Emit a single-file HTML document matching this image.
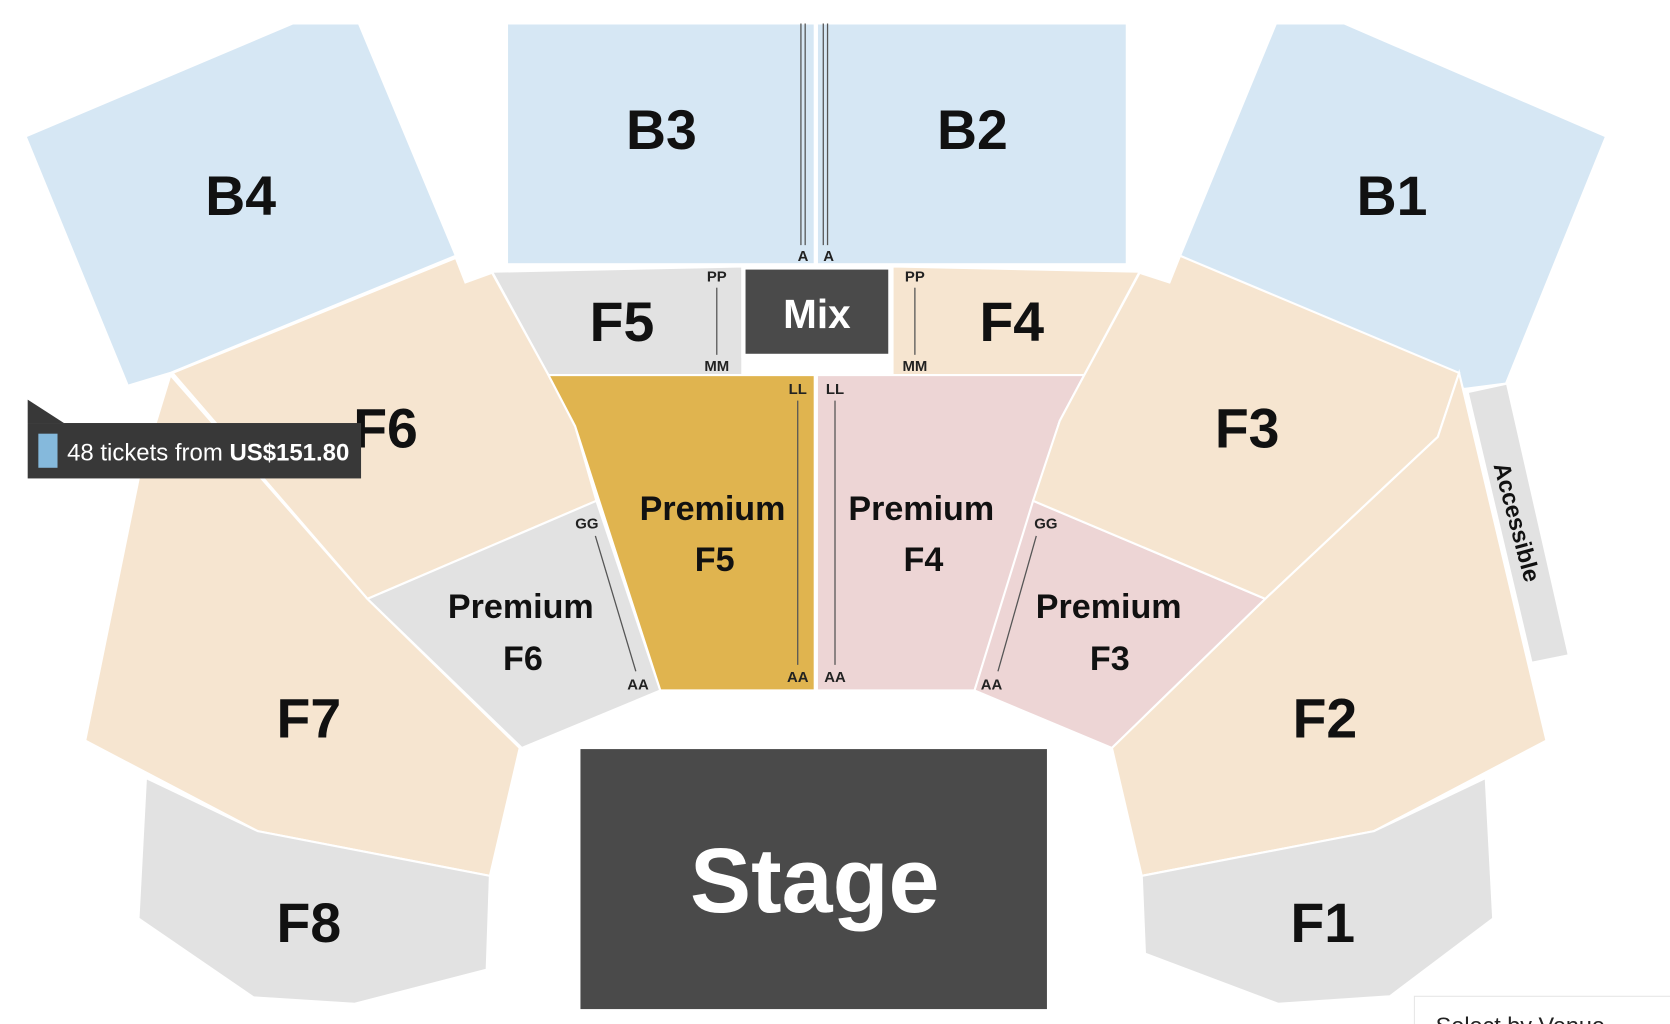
<!DOCTYPE html>
<html><head><meta charset="utf-8"><style>
html,body{margin:0;padding:0;background:#fff;overflow:hidden}
svg{display:block}
text{font-family:"Liberation Sans",Arial,sans-serif;font-weight:bold;fill:#111}
.s{font-size:14px;fill:#222}
</style></head><body>
<svg width="1670" height="1024" viewBox="0 0 1568 961" preserveAspectRatio="none" xmlns="http://www.w3.org/2000/svg">
<g stroke="#fff" stroke-width="2">
<polygon points="24,128 275,22 337,22 428,240 160,350 120,362" fill="#d6e7f4"/>
<rect x="476" y="22" width="289" height="226" fill="#d6e7f4"/>
<rect x="767" y="22" width="291" height="226" fill="#d6e7f4"/>
<polygon points="1108,240 1198,22 1262,22 1508,128 1414,360 1375,365" fill="#d6e7f4"/>
<polygon points="462,255 697,250 697,352 515,352" fill="#e2e2e2"/>
<polygon points="838,250 1070,255 1018,352 838,352" fill="#f6e5d0"/>
<polygon points="162,350 428,242 437,265 462,256 515,352 540,400 560,470 345,562" fill="#f6e5d0"/>
<polygon points="160,352 345,562 488,702 460,822 242,780 80,695 130,450" fill="#f6e5d0"/>
<polygon points="345,562 560,470 620,648 490,702" fill="#e2e2e2"/>
<polygon points="515,352 765,352 765,648 620,648 540,400" fill="#e0b44f"/>
<polygon points="767,352 1018,352 995,395 915,648 767,648" fill="#edd5d5"/>
<polygon points="970,470 1188,562 1044,702 915,648" fill="#edd5d5"/>
<polygon points="1018,352 1070,256 1098,265 1108,240 1370,350 1350,410 1188,562 970,470 995,395" fill="#f6e5d0"/>
<polygon points="1370,350 1452,695 1290,780 1072,822 1044,702 1188,562 1350,410" fill="#f6e5d0"/>
<polygon points="1378,368 1415,360 1473,615 1438,622" fill="#e2e2e2"/>
<polygon points="137,730 242,780 460,822 457,910 333,942 238,936 130,862" fill="#e2e2e2"/>
<polygon points="1072,822 1290,780 1395,730 1402,862 1305,935 1200,942 1075,895" fill="#e2e2e2"/>
</g>
<rect x="698" y="251" width="138" height="83" fill="#4a4a4a" stroke="#fff" stroke-width="4"/>
<rect x="545" y="703" width="438" height="244" fill="#4a4a4a"/>
<g stroke="#555" stroke-width="1.2">
<line x1="752" y1="22" x2="752" y2="230"/><line x1="756" y1="22" x2="756" y2="230"/>
<line x1="773" y1="22" x2="773" y2="230"/><line x1="777" y1="22" x2="777" y2="230"/>
<line x1="673" y1="270" x2="673" y2="333"/><line x1="859" y1="270" x2="859" y2="333"/>
<line x1="749" y1="376" x2="749" y2="624"/><line x1="784" y1="376" x2="784" y2="624"/>
<line x1="559" y1="503" x2="597" y2="630"/><line x1="973" y1="503" x2="937" y2="630"/>
</g>
<g text-anchor="middle">
<text x="226" y="202" font-size="52">B4</text>
<text x="621" y="140" font-size="52">B3</text>
<text x="913" y="140" font-size="52">B2</text>
<text x="1307" y="202" font-size="52">B1</text>
<text x="584" y="320" font-size="52">F5</text>
<text x="950" y="320" font-size="52">F4</text>
<text x="767" y="308" font-size="38" style="fill:#fff">Mix</text>
<text x="362" y="420" font-size="52">F6</text>
<text x="1171" y="420" font-size="52">F3</text>
<text x="290" y="692" font-size="52">F7</text>
<text x="1244" y="692" font-size="52">F2</text>
<text x="290" y="884" font-size="52">F8</text>
<text x="1242" y="884" font-size="52">F1</text>
<text x="765" y="856" font-size="86" style="fill:#fff">Stage</text>
<text x="669" y="488" font-size="32">Premium</text><text x="671" y="536" font-size="32">F5</text>
<text x="865" y="488" font-size="32">Premium</text><text x="867" y="536" font-size="32">F4</text>
<text x="489" y="580" font-size="32">Premium</text><text x="491" y="629" font-size="32">F6</text>
<text x="1041" y="580" font-size="32">Premium</text><text x="1042" y="629" font-size="32">F3</text>
<text class="s" x="754" y="245">A</text><text class="s" x="778" y="245">A</text>
<text class="s" x="673" y="264">PP</text><text class="s" x="859" y="264">PP</text>
<text class="s" x="673" y="348">MM</text><text class="s" x="859" y="348">MM</text>
<text class="s" x="749" y="370">LL</text><text class="s" x="784" y="370">LL</text>
<text class="s" x="551" y="496">GG</text><text class="s" x="982" y="496">GG</text>
<text class="s" x="599" y="647">AA</text><text class="s" x="749" y="640">AA</text>
<text class="s" x="784" y="640">AA</text><text class="s" x="931" y="647">AA</text>
<text transform="translate(1417,492) rotate(75)" font-size="22">Accessible</text>
</g>
<polygon points="26,375 26,397 60,397" fill="#383838"/>
<rect x="26" y="397" width="313" height="52" fill="#383838"/>
<rect x="36" y="407" width="18" height="32" fill="#85b9dc"/>
<text x="63" y="432" font-size="22.5" style="fill:#fff;font-weight:normal">48 tickets from <tspan style="font-weight:bold">US$151.80</tspan></text>
<rect x="1328" y="935" width="260" height="40" fill="#fff" stroke="#e6e6e6"/>
<text x="1348" y="970" font-size="22" style="fill:#222;font-weight:normal">Select by Venue</text>
</svg>
</body></html>
